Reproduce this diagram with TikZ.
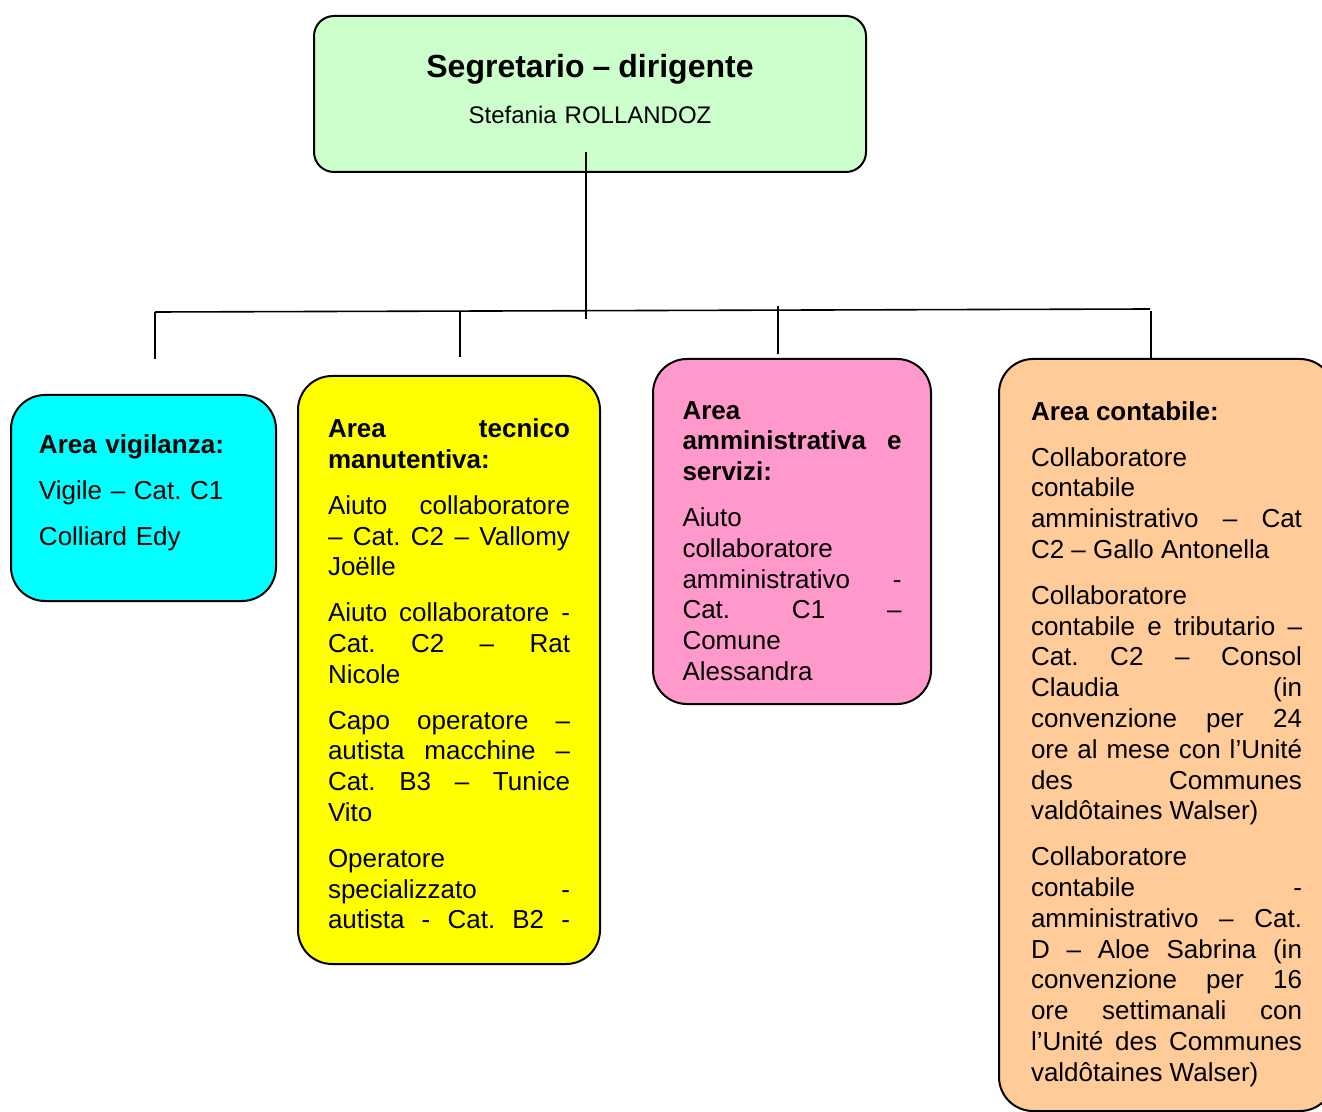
\documentclass[tikz,border=0pt]{standalone}
\usepackage{fontspec}
\setmainfont{Liberation Sans}
\definecolor{segreen}{HTML}{CCFFCC}
\definecolor{vigcyan}{HTML}{00FFFF}
\definecolor{tecyellow}{HTML}{FFFF00}
\definecolor{ammpink}{HTML}{FF99CC}
\definecolor{conorange}{HTML}{FFCC99}
\newcommand{\pb}{\par\vspace{7.5pt}}
\newcommand{\fullpar}{{\parfillskip=0pt\par}}
\newcommand{\padtop}[1]{\rule{0pt}{#1}}
\newcommand{\padbot}[1]{\rule[-#1]{0pt}{#1}}

\begin{document}
\begin{tikzpicture}[x=0.5pt, y=-0.5pt,
    area/.style={draw, line width=1pt, rounded corners=17pt, anchor=north west, inner sep=0pt,
      font=\fontsize{13}{15.4}\selectfont, align=justify,
      execute at begin node={\frenchspacing\hyphenpenalty=10000\exhyphenpenalty=10000\tolerance=10000}},
    link/.style={line width=0.8pt}]
  \useasboundingbox (0,0) rectangle (1322,1112);

  \node[area, fill=segreen, rounded corners=10pt, minimum width=276pt, minimum height=78pt,
    text width=260pt, align=center, font=\fontsize{12}{14.4}\selectfont] (seg) at (313,15)
    {{\fontsize{16}{19}\selectfont\bfseries Segretario – dirigente}\\[8.5pt]Stefania ROLLANDOZ\padbot{5pt}};

  \node[area, fill=vigcyan, minimum width=132.5pt, minimum height=103pt, text width=104.5pt,
    align=left] (vig) at (10,394)
    {\textbf{Area vigilanza:}\pb Vigile – Cat. C1\pb Colliard Edy\padbot{7.7pt}};

  \node[area, fill=tecyellow, minimum width=151pt, minimum height=294pt, text width=121pt] (tec) at (297,375)
    {\padtop{13.4pt}\textbf{Area tecnico\linebreak manutentiva:}\pb
     Aiuto collaboratore\linebreak – Cat. C2 – Vallomy\linebreak Joëlle\pb
     Aiuto collaboratore -\linebreak Cat. C2 – Rat\linebreak Nicole\pb
     Capo operatore –\linebreak autista macchine –\linebreak Cat. B3 – Tunice\linebreak Vito\pb
     Operatore\linebreak specializzato -\linebreak autista - Cat. B2 -\fullpar};

  \node[area, fill=ammpink, minimum width=139pt, minimum height=172.5pt, text width=109.5pt] (amm) at (652,358)
    {\padtop{18.4pt}\textbf{Area\linebreak amministrativa e\linebreak servizi:}\pb
     Aiuto\linebreak collaboratore\linebreak amministrativo -\linebreak Cat. C1 –\linebreak Comune\linebreak Alessandra};

  \node[area, fill=conorange, minimum width=167.5pt, minimum height=376pt, text width=135.5pt] (con) at (998,358)
    {\padtop{18.4pt}\textbf{Area contabile:}\pb
     Collaboratore\linebreak contabile\linebreak amministrativo – Cat\linebreak C2 – Gallo Antonella\pb
     Collaboratore\linebreak contabile e tributario –\linebreak Cat. C2 – Consol\linebreak Claudia (in\linebreak
     convenzione per 24\linebreak ore al mese con l’Unité\linebreak des Communes\linebreak valdôtaines Walser)\pb
     Collaboratore\linebreak contabile -\linebreak amministrativo – Cat.\linebreak D – Aloe Sabrina (in\linebreak
     convenzione per 16\linebreak ore settimanali con\linebreak l’Unité des Communes\linebreak valdôtaines Walser)};

  % bus
  \coordinate (segfoot) at (586,152);
  \coordinate (hub) at (586,319);
  \coordinate (busW) at (155,312);
  \coordinate (busE) at (1150,309);
  \coordinate (taptec) at (460,311);
  \coordinate (tapamm) at (778,306);
  \coordinate (tapcon) at (1151,311);
  \coordinate (vigtop) at (155,359);
  \coordinate (tectop) at (460,357);
  \coordinate (ammtop) at (778,354);
  \coordinate (contop) at (1151,358);
  \draw[link] (segfoot) -- (hub);
  \draw[link] (busW) -- (busE);
  \draw[link] (busW) -- (vigtop);
  \draw[link] (taptec) -- (tectop);
  \draw[link] (tapamm) -- (ammtop);
  \draw[link] (tapcon) -- (contop);
\end{tikzpicture}
\end{document}
